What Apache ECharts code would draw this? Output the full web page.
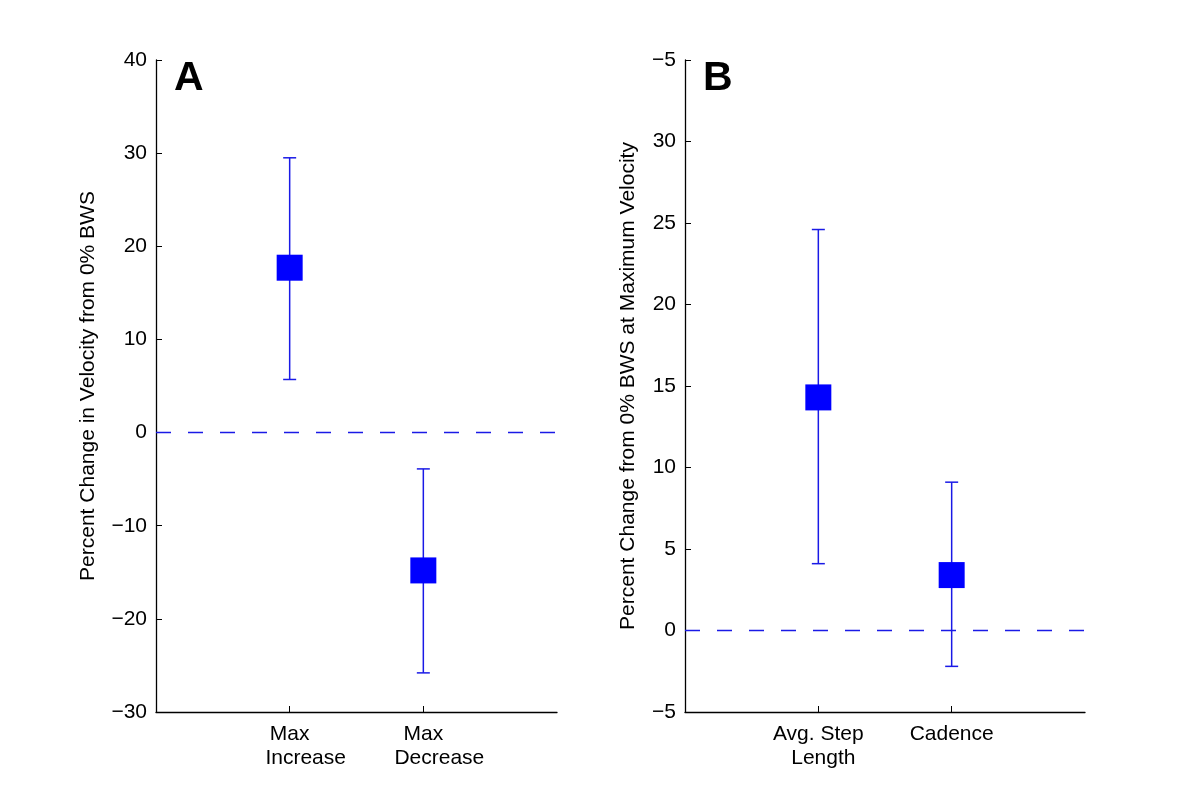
<!DOCTYPE html>
<html>
<head>
<meta charset="utf-8">
<title>Percent change in velocity and gait parameters</title>
<script src="https://cdn.jsdelivr.net/npm/echarts@6/dist/echarts.min.js"></script>
<style>
  html, body { margin: 0; padding: 0; background: #fff; }
  #chart { width: 1200px; height: 800px; }
</style>
</head>
<body>
<div id="chart"></div>
<script>
// panel A
const catsA = ['Max\nIncrease', 'Max\nDecrease']
const meanA = [17.7, -14.8]
const upperA = [29.5, -3.9]
const lowerA = [5.7, -25.8]

// panel B
const catsB = ['Avg. Step\nLength', 'Cadence']
const meanB = [14.3, 3.4]
const upperB = [24.6, 9.1]
const lowerB = [4.1, -2.2]

// tick labels of B as printed in the figure (top one reads −5)
const yTicksB = [-5, 0, 5, 10, 15, 20, 25, 30, 35]
const yLabelsB = ['\u22125', '0', '5', '10', '15', '20', '25', '30', '\u22125']

const blue = '#0000ff'
const barBlue = '#1a1ae6'
const font = '"Liberation Sans", Arial, Helvetica, sans-serif'

const minus = (v) => String(v).replace('-', '\u2212')

// second lines of the tick labels sit a little right of the first, like matlab
const catLabel = (txt) => {
  const [first, second] = txt.split('\n')
  if (!second) return '{a|' + first + '}'
  return '{a|' + first + '}\n{b|' + second + '}'
}

const chart = echarts.init(document.getElementById('chart'), null, { renderer: 'canvas' })

function xAxis(gridIndex, cats, shift) {
  return {
    type: 'value',
    gridIndex,
    min: 0,
    max: 3,
    interval: 1,
    axisLine: { onZero: false, lineStyle: { color: '#000', width: 1.3 } },
    axisTick: { inside: true, length: 6, customValues: [1, 2], lineStyle: { color: '#000' } },
    axisLabel: {
      customValues: [1, 2],
      formatter: (v) => cats[v - 1] ? catLabel(cats[v - 1]) : '',
      color: '#000',
      fontSize: 21,
      fontFamily: font,
      lineHeight: 24,
      margin: 10,
      rich: {
        a: { fontSize: 21, fontFamily: font, color: '#000', lineHeight: 24 },
        b: { fontSize: 21, fontFamily: font, color: '#000', lineHeight: 24, padding: [0, 0, 0, shift] }
      }
    },
    splitLine: { show: false }
  }
}

function yAxis(gridIndex, min, max, interval, name, nameGap, fmt) {
  return {
    type: 'value',
    gridIndex,
    min,
    max,
    interval,
    name,
    nameLocation: 'middle',
    nameGap,
    nameTextStyle: { color: '#000', fontSize: 21, fontFamily: font },
    axisLine: { show: true, onZero: false, lineStyle: { color: '#000', width: 1.3 } },
    axisTick: { show: true, inside: true, length: 6, lineStyle: { color: '#000' } },
    axisLabel: { color: '#000', fontSize: 21, fontFamily: font, margin: 9, formatter: fmt },
    splitLine: { show: false }
  }
}

function errorBars(idx, upper, lower) {
  return {
    type: 'custom',
    xAxisIndex: idx,
    yAxisIndex: idx,
    data: upper.map((u, i) => [i + 1, lower[i], u]),
    renderItem: (params, api) => {
      const lo = api.coord([api.value(0), api.value(1)])
      const hi = api.coord([api.value(0), api.value(2)])
      const cap = 6.5
      const style = { stroke: barBlue, lineWidth: 1.5 }
      return {
        type: 'group',
        children: [
          { type: 'line', shape: { x1: lo[0], y1: lo[1], x2: hi[0], y2: hi[1] }, style },
          { type: 'line', shape: { x1: hi[0] - cap, y1: hi[1], x2: hi[0] + cap, y2: hi[1] }, style },
          { type: 'line', shape: { x1: lo[0] - cap, y1: lo[1], x2: lo[0] + cap, y2: lo[1] }, style }
        ]
      }
    },
    z: 3
  }
}

function zeroLine(idx) {
  return {
    type: 'line',
    xAxisIndex: idx,
    yAxisIndex: idx,
    data: [[0, 0], [3, 0]],
    symbol: 'none',
    lineStyle: { color: barBlue, width: 1.5, type: [15, 17] },
    silent: true,
    z: 2
  }
}

function means(idx, vals) {
  return {
    type: 'scatter',
    xAxisIndex: idx,
    yAxisIndex: idx,
    data: vals.map((v, i) => [i + 1, v]),
    symbol: 'rect',
    symbolSize: 26,
    itemStyle: { color: blue, opacity: 1 },
    z: 4
  }
}

chart.setOption({
  backgroundColor: '#fff',
  animation: false,
  grid: [
    { left: 156, width: 401, top: 60, bottom: 88 },
    { left: 685, width: 400, top: 60, bottom: 88 }
  ],
  xAxis: [xAxis(0, catsA, 32), xAxis(1, catsB, 10)],
  yAxis: [
    yAxis(0, -30, 40, 10, 'Percent Change in Velocity from 0% BWS', 57, minus),
    yAxis(1, -5, 35, 5, 'Percent Change from 0% BWS at Maximum Velocity', 46,
      (v) => yLabelsB[yTicksB.indexOf(v)])
  ],
  graphic: [
    { type: 'text', left: 174, top: 58, style: { text: 'A', font: 'bold 41px ' + font, fill: '#000' } },
    { type: 'text', left: 703, top: 58, style: { text: 'B', font: 'bold 41px ' + font, fill: '#000' } }
  ],
  series: [
    zeroLine(0), errorBars(0, upperA, lowerA), means(0, meanA),
    zeroLine(1), errorBars(1, upperB, lowerB), means(1, meanB)
  ]
})
</script>
</body>
</html>
